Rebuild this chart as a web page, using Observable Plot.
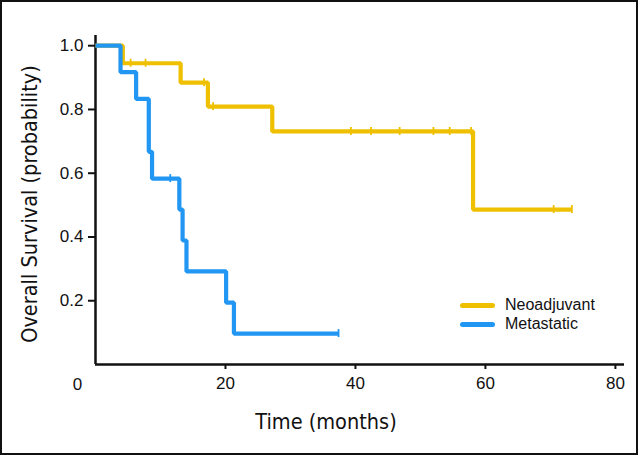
<!DOCTYPE html>
<html><head><meta charset="utf-8">
<script src="https://cdn.jsdelivr.net/npm/d3@7"></script>
<script src="https://cdn.jsdelivr.net/npm/@observablehq/plot@0.6"></script>
<style>
html,body{margin:0;padding:0;background:#fff;}
#wrap{position:relative;width:640px;height:455px;overflow:hidden;background:#fff;}
#border{position:absolute;left:0;top:0;width:638px;height:455px;box-sizing:border-box;border:2px solid #111;pointer-events:none;}
.lg{position:absolute;left:460px;height:20px;display:flex;align-items:center;font-family:"Liberation Sans",Arial,sans-serif;font-size:16px;color:#111;}
.lg span.sw{display:inline-block;width:35px;height:5px;border-radius:3px;margin-right:10px;}
</style></head><body>
<div id="wrap"><div id="border"></div></div>
<script>
// Series
const seriesNames = ["Neoadjuvant", "Metastatic"];
const seriesColors = ["#EEC000", "#2196F3"];

// Neoadjuvant step curve (months, survival probability)
const neoTime = [0, 4.2, 13.1, 17.3, 27.2, 58.1, 73.3];
const neoSurv = [1.0, 0.945, 0.884, 0.809, 0.731, 0.486, 0.486];
// Neoadjuvant censor marks
const neoCensTime = [5.4, 7.7, 16.7, 18.1, 39.3, 42.4, 46.8, 52.0, 54.5, 57.8, 70.5, 73.3];
const neoCensSurv = [0.945, 0.945, 0.884, 0.809, 0.731, 0.731, 0.731, 0.731, 0.731, 0.731, 0.486, 0.486];

// Metastatic step curve
const metTime = [0, 3.85, 6.25, 8.2, 8.7, 12.9, 13.4, 14.0, 20.1, 21.3, 37.4];
const metSurv = [1.0, 0.917, 0.833, 0.667, 0.583, 0.486, 0.389, 0.292, 0.194, 0.097, 0.097];
// Metastatic censor marks
const metCensTime = [11.5, 37.4];
const metCensSurv = [0.583, 0.097];

// Axis ticks
const xTicks = [20, 40, 60, 80];
const xOriginLabel = ["0"];
const yTicks = [0.2, 0.4, 0.6, 0.8, 1.0];
const xTitle = "Time (months)";
const yTitle = "Overall Survival (probability)";

const neo = neoTime.map((t, i) => ({t, s: neoSurv[i]}));
const met = metTime.map((t, i) => ({t, s: metSurv[i]}));
const neoC = neoCensTime.map((t, i) => ({t, s: neoCensSurv[i]}));
const metC = metCensTime.map((t, i) => ({t, s: metCensSurv[i]}));

const titleFont = "DejaVu Sans Condensed, DejaVu Sans, sans-serif";

const plot = Plot.plot({
  width: 640, height: 455,
  marginLeft: 95, marginRight: 16, marginTop: 35, marginBottom: 91,
  x: {domain: [0, 81.4]},
  y: {domain: [0, 1.032]},
  style: {fontFamily: "Liberation Sans, Arial, sans-serif", fontSize: "17px", color: "#111", background: "transparent", overflow: "visible"},
  marks: [
    Plot.axisY({ticks: yTicks, tickSize: 7, tickPadding: 5, tickFormat: d => d.toFixed(1), label: null, strokeWidth: 2, fontSize: 17}),
    Plot.axisX({ticks: xTicks, tickSize: 5, tickPadding: 7, label: null, strokeWidth: 2, fontSize: 17}),
    Plot.text(xOriginLabel, {frameAnchor: "bottom-left", dx: -18, dy: 20, textAnchor: "middle", lineAnchor: "middle", fontSize: 17, fill: "#111"}),
    Plot.ruleY([0], {stroke: "#111", strokeWidth: 2.5}),
    Plot.ruleX([0], {stroke: "#111", strokeWidth: 2.5}),
    Plot.line(neo, {x: "t", y: "s", curve: "step-after", stroke: seriesColors[0], strokeWidth: 4.2, strokeLinejoin: "miter", strokeLinecap: "butt"}),
    Plot.ruleX(neoC, {x: "t", y1: "s", y2: "s", insetTop: -4, insetBottom: -4, stroke: seriesColors[0], strokeWidth: 1.8}),
    Plot.line(met, {x: "t", y: "s", curve: "step-after", stroke: seriesColors[1], strokeWidth: 4.2, strokeLinejoin: "miter", strokeLinecap: "butt"}),
    Plot.ruleX(metC, {x: "t", y1: "s", y2: "s", insetTop: -4, insetBottom: -4, stroke: seriesColors[1], strokeWidth: 1.8}),
    Plot.text([xTitle], {frameAnchor: "bottom", dx: -34, dy: 58, textAnchor: "middle", lineAnchor: "middle", fontFamily: titleFont, fontSize: 21.5, fill: "#111"}),
    Plot.text([yTitle], {frameAnchor: "left", rotate: -90, dx: -65, dy: 4, textAnchor: "middle", lineAnchor: "middle", fontFamily: titleFont, fontSize: 21.5, fill: "#111"})
  ]
});

const wrap = document.getElementById("wrap");
wrap.insertBefore(plot, wrap.firstChild);

// Legend (HTML overlay)
const legendTops = [295, 314];
seriesNames.forEach((name, i) => {
  const d = document.createElement("div");
  d.className = "lg";
  d.style.top = legendTops[i] + "px";
  const sw = document.createElement("span");
  sw.className = "sw";
  sw.style.background = seriesColors[i];
  d.appendChild(sw);
  d.appendChild(document.createTextNode(name));
  wrap.appendChild(d);
});
</script>
</body></html>
